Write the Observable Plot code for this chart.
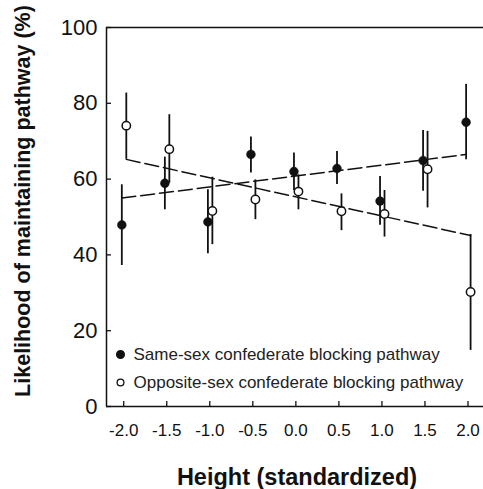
<!DOCTYPE html>
<html>
<head>
<meta charset="utf-8">
<script src="https://cdn.jsdelivr.net/npm/d3@7"></script>
<script src="https://cdn.jsdelivr.net/npm/@observablehq/plot@0.6"></script>
<style>
  html, body { margin: 0; padding: 0; background: #fff; }
  #chart svg { display: block; }
</style>
</head>
<body>
<div id="chart"></div>
<script>
// Standardized height bins
const heights = [-2, -1.5, -1, -0.5, 0, 0.5, 1, 1.5, 2];

// Same-sex confederate blocking pathway: mean and error-bar ends (%)
const sameMean = [47.9, 58.9, 48.7, 66.5, 62.0, 62.8, 54.2, 64.9, 75.0];
const sameLo   = [37.2, 51.9, 40.3, 61.6, 57.0, 58.6, 47.8, 56.8, 65.1];
const sameHi   = [58.5, 65.8, 57.2, 71.1, 66.9, 67.3, 60.7, 72.8, 85.0];

// Opposite-sex confederate blocking pathway: mean and error-bar ends (%)
const oppMean = [74.1, 67.9, 51.6, 54.6, 56.7, 51.5, 50.8, 62.6, 30.2];
const oppLo   = [65.2, 58.9, 42.7, 49.3, 51.9, 46.4, 44.7, 52.4, 14.8];
const oppHi   = [82.7, 77.0, 60.5, 59.8, 61.1, 56.1, 57.0, 72.6, 45.4];

// Fitted regression lines, value at height -2 and at height 2
const fitX = [-2, 2];
const sameFit = [55.0, 66.5];
const oppFit = [65.2, 45.1];

const xTicks = [-2, -1.5, -1, -0.5, 0, 0.5, 1, 1.5, 2];
const yTicks = [0, 20, 40, 60, 80, 100];
const xDomain = [-2.2, 2.18];
const yDomain = [0, 100];

const seriesNames = [
  "Same-sex confederate blocking pathway",
  "Opposite-sex confederate blocking pathway"
];

// small horizontal dodge so the two groups do not overlap
const dodgeSame = -0.022;
const dodgeOpp = 0.03;

const same = heights.map((h, i) => ({x: h + dodgeSame, mean: sameMean[i], lo: sameLo[i], hi: sameHi[i]}));
const opp = heights.map((h, i) => ({x: h + dodgeOpp, mean: oppMean[i], lo: oppLo[i], hi: oppHi[i]}));
const sameLine = fitX.map((x, i) => ({x: x + dodgeSame, y: sameFit[i]}));
const oppLine = fitX.map((x, i) => ({x: x + dodgeOpp, y: oppFit[i]}));

const font = "'Liberation Sans', Arial, Helvetica, sans-serif";

const chart = Plot.plot({
  width: 483,
  height: 489,
  marginLeft: 106,
  marginRight: 0,
  marginTop: 27,
  marginBottom: 83,
  style: {fontFamily: font, background: "#fff", color: "#111"},
  x: {domain: xDomain},
  y: {domain: yDomain},
  marks: [
    // frame: left, top and bottom edges
    Plot.ruleX([xDomain[0]], {stroke: "#111", strokeWidth: 1.5}),
    Plot.ruleY(yDomain, {stroke: "#111", strokeWidth: 1.5}),
    Plot.axisX({ticks: xTicks, tickSize: -5, tickPadding: 22, tickFormat: d => d.toFixed(1),
      fontSize: 17, label: null, strokeWidth: 1.3}),
    Plot.axisY({ticks: yTicks, tickSize: -5, tickPadding: 14, fontSize: 22, label: null, strokeWidth: 1.3}),
    // regression lines
    Plot.line(sameLine, {x: "x", y: "y", stroke: "#111", strokeWidth: 1.5, strokeDasharray: "14,5"}),
    Plot.line(oppLine, {x: "x", y: "y", stroke: "#111", strokeWidth: 1.5, strokeDasharray: "14,5"}),
    // error bars
    Plot.ruleX(same, {x: "x", y1: "lo", y2: "hi", stroke: "#111", strokeWidth: 1.8}),
    Plot.ruleX(opp, {x: "x", y1: "lo", y2: "hi", stroke: "#111", strokeWidth: 1.8}),
    // means
    Plot.dot(same, {x: "x", y: "mean", r: 4.4, fill: "#111", stroke: "#111", strokeWidth: 0.5}),
    Plot.dot(opp, {x: "x", y: "mean", r: 4.2, fill: "#fff", stroke: "#111", strokeWidth: 1.5}),
    // legend
    Plot.dot([seriesNames[0]], {frameAnchor: "bottom-left", dx: 14, dy: -52, r: 3.8, fill: "#111", stroke: "#111"}),
    Plot.dot([seriesNames[1]], {frameAnchor: "bottom-left", dx: 14, dy: -24, r: 3.4, fill: "#fff", stroke: "#111", strokeWidth: 1.3}),
    Plot.text([seriesNames[0]], {text: d => d, frameAnchor: "bottom-left", dx: 27, dy: -52,
      textAnchor: "start", lineAnchor: "middle", fontSize: 17, fill: "#222"}),
    Plot.text([seriesNames[1]], {text: d => d, frameAnchor: "bottom-left", dx: 27, dy: -24,
      textAnchor: "start", lineAnchor: "middle", fontSize: 17, fill: "#222"}),
    // axis titles
    Plot.text(["Height (standardized)"], {text: d => d, frameAnchor: "bottom", dx: 2, dy: 62,
      textAnchor: "middle", lineAnchor: "top", fontSize: 23.5, fontWeight: "bold", fill: "#111"}),
    Plot.text(["Likelihood of maintaining pathway (%)"], {text: d => d, frameAnchor: "left", dx: -83, dy: -16,
      rotate: -90, textAnchor: "middle", lineAnchor: "middle", fontSize: 21.5, fontWeight: "bold", fill: "#111"})
  ]
});

document.getElementById("chart").append(chart);
</script>
</body>
</html>
